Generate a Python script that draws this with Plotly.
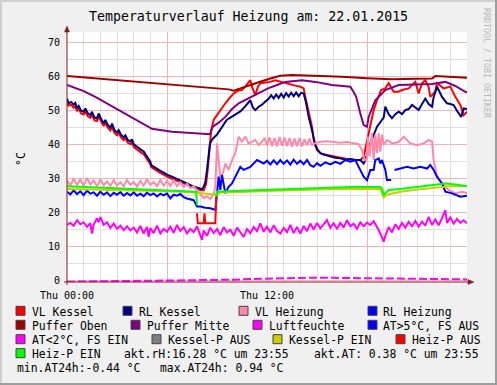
import plotly.graph_objects as go

# ---------------- data ----------------
title_text = "Temperaturverlauf Heizung am: 22.01.2015"
x_tick_vals = [0, 6, 12, 18]
x_tick_text = ["Thu 00:00", "", "Thu 12:00", ""]
y_tick_vals = [0, 10, 20, 30, 40, 50, 60, 70]

# (hour, °C)
vl_kessel = [
    (0.0, 52.2), (0.1, 51.5), (0.25, 51.8), (0.4, 50.9), (0.5, 51.4), (0.6, 49.9), (0.7, 50.5),
    (0.85, 49.2), (1.0, 48.9), (1.1, 49.8), (1.25, 48.4), (1.4, 47.9), (1.5, 48.8), (1.65, 47.2),
    (1.8, 47.0), (1.9, 48.3), (2.05, 46.8), (2.2, 45.5), (2.3, 46.4), (2.45, 45.0), (2.6, 44.2),
    (2.7, 45.3), (2.85, 43.5), (3.0, 42.8), (3.1, 43.4), (3.25, 42.1), (3.4, 41.4), (3.5, 41.9),
    (3.65, 40.6), (3.8, 40.2), (3.9, 40.7), (4.0, 39.4), (4.15, 38.8), (4.3, 38.1), (4.45, 37.7),
    (4.6, 37.2), (4.7, 36.5), (4.85, 35.6), (5.0, 34.3), (5.05, 33.4), (5.2, 32.9), (5.4, 32.3),
    (5.6, 31.7), (5.8, 31.2), (6.0, 30.6), (6.3, 30.0), (6.6, 29.4), (6.9, 28.7), (7.2, 28.1),
    (7.5, 27.5), (7.8, 27.0), (8.0, 26.7), (8.2, 26.6), (8.35, 28.5), (8.45, 33.0), (8.55, 39.4),
    (8.65, 44.3), (8.8, 47.3), (9.0, 48.7), (9.2, 50.2), (9.5, 52.2), (9.8, 54.0), (10.0, 55.1),
    (10.3, 56.0), (10.5, 56.1), (10.7, 57.2), (10.9, 58.5), (11.0, 59.0), (11.1, 57.1), (11.3, 54.6),
    (11.45, 57.0), (11.6, 58.1), (11.9, 58.3), (12.2, 58.5), (12.5, 59.0), (12.8, 58.6), (13.1, 58.0),
    (13.4, 57.6), (13.7, 57.4), (14.0, 57.1), (14.2, 56.6), (14.3, 54.1), (14.5, 49.2), (14.7, 45.3),
    (14.8, 41.4), (15.0, 38.4), (15.3, 37.3), (15.6, 37.0), (16.0, 36.4), (16.4, 36.0), (16.8, 35.8),
    (17.2, 35.6), (17.6, 35.5), (17.8, 36.5), (18.0, 41.0), (18.2, 45.3), (18.4, 50.2), (18.6, 53.1),
    (18.85, 56.1), (19.1, 56.6), (19.3, 58.1), (19.6, 55.6), (19.9, 55.6), (20.1, 56.1), (20.5, 56.6),
    (20.9, 58.5), (21.1, 55.1), (21.3, 58.1), (21.5, 59.0), (21.7, 57.0), (21.8, 54.1), (22.1, 55.6),
    (22.2, 58.1), (22.6, 56.6), (23.0, 57.1), (23.3, 54.1), (23.6, 51.7), (23.8, 48.7), (24.0, 49.7),
]

rl_kessel = [
    (0.0, 53.6), (0.1, 52.2), (0.25, 52.6), (0.4, 51.8), (0.5, 52.3), (0.6, 50.7), (0.7, 51.4),
    (0.85, 50.0), (1.0, 49.7), (1.1, 50.7), (1.25, 49.3), (1.4, 48.7), (1.5, 49.7), (1.65, 48.0),
    (1.8, 47.8), (1.9, 49.2), (2.05, 47.6), (2.2, 46.3), (2.3, 47.3), (2.45, 45.8), (2.6, 45.0),
    (2.7, 46.2), (2.85, 44.3), (3.0, 43.6), (3.1, 44.3), (3.25, 42.9), (3.4, 42.2), (3.5, 42.8),
    (3.65, 41.4), (3.8, 41.0), (3.9, 41.6), (4.0, 40.2), (4.15, 39.6), (4.3, 38.9), (4.45, 38.5),
    (4.6, 38.0), (4.7, 37.3), (4.85, 36.4), (5.0, 35.0), (5.05, 34.0), (5.2, 33.5), (5.4, 32.9),
    (5.6, 32.3), (5.8, 31.8), (6.0, 31.2), (6.3, 30.6), (6.6, 30.0), (6.9, 29.3), (7.2, 28.6),
    (7.5, 27.9), (7.8, 27.4), (8.0, 27.0), (8.1, 26.9), (8.2, 27.6), (8.3, 29.0), (8.4, 32.6),
    (8.5, 37.5), (8.58, 40.4), (8.7, 41.5), (8.88, 42.4), (9.0, 43.0), (9.18, 44.3), (9.4, 46.0),
    (9.58, 47.3), (9.8, 48.0), (10.0, 48.6), (10.2, 49.2), (10.4, 49.8), (10.6, 50.8), (10.8, 52.0),
    (11.0, 53.1), (11.15, 51.0), (11.3, 50.2), (11.5, 51.2), (11.7, 51.8), (11.9, 52.7), (12.1, 53.5),
    (12.25, 54.6), (12.4, 53.6), (12.55, 54.8), (12.7, 53.8), (12.85, 55.0), (13.0, 53.9), (13.15, 55.2),
    (13.3, 54.2), (13.45, 55.3), (13.6, 54.3), (13.75, 55.4), (13.9, 54.3), (14.05, 55.3), (14.2, 55.1),
    (14.35, 52.2), (14.5, 48.2), (14.7, 44.3), (14.9, 39.9), (15.05, 38.5), (15.2, 37.5), (15.5, 37.0),
    (15.8, 36.5), (16.1, 36.2), (16.4, 36.0), (16.7, 35.6), (17.0, 35.8), (17.3, 35.5), (17.6, 35.5),
    (17.8, 34.5), (17.9, 35.5), (18.0, 37.0), (18.2, 40.4), (18.6, 45.3), (19.0, 48.0), (19.1, 51.2),
    (19.3, 49.0), (19.5, 47.8), (19.7, 49.0), (19.9, 49.7), (20.1, 49.0), (20.3, 50.2), (20.5, 50.5),
    (20.7, 51.7), (20.9, 51.0), (21.1, 50.2), (21.3, 52.0), (21.5, 53.6), (21.7, 52.0), (21.9, 51.2),
    (22.0, 54.0), (22.2, 57.1), (22.5, 54.1), (22.8, 52.2), (23.0, 52.0), (23.2, 51.7), (23.4, 50.0),
    (23.65, 48.2), (23.8, 50.7), (24.0, 50.5),
]

vl_heizung = [
    (0.0, 29.5), (0.2, 28.0), (0.4, 30.0), (0.6, 28.2), (0.8, 29.8), (1.0, 28.0), (1.2, 30.2),
    (1.4, 28.3), (1.6, 29.5), (1.8, 27.8), (2.0, 29.8), (2.2, 28.1), (2.4, 29.2), (2.6, 27.9),
    (2.8, 29.6), (3.0, 28.0), (3.2, 29.0), (3.4, 27.8), (3.6, 29.6), (3.8, 28.2), (4.0, 29.0),
    (4.2, 27.7), (4.4, 29.4), (4.6, 28.0), (4.8, 29.8), (5.0, 28.2), (5.2, 29.0), (5.4, 27.8),
    (5.6, 29.6), (5.8, 28.0), (6.0, 29.3), (6.2, 27.9), (6.4, 29.5), (6.6, 27.8), (6.8, 29.0),
    (7.0, 27.6), (7.2, 28.5), (7.4, 27.2), (7.6, 27.8), (7.8, 26.5), (8.0, 25.5), (8.2, 24.3),
    (8.4, 24.8), (8.6, 24.0), (8.8, 25.5), (8.9, 27.6), (9.0, 40.4), (9.1, 35.5), (9.2, 30.6),
    (9.35, 31.6), (9.5, 34.5), (9.7, 32.6), (9.9, 35.5), (10.1, 37.5), (10.3, 42.4), (10.5, 40.9),
    (10.7, 42.4), (10.9, 40.4), (11.3, 41.4), (11.5, 39.9), (11.7, 40.9), (11.85, 42.0), (12.0, 39.8),
    (12.15, 42.2), (12.3, 39.6), (12.45, 42.0), (12.6, 39.5), (12.75, 42.3), (12.9, 39.7), (13.05, 42.1),
    (13.2, 39.6), (13.35, 42.0), (13.5, 39.4), (13.65, 41.8), (13.8, 39.6), (13.95, 42.0), (14.1, 39.5),
    (14.25, 41.6), (14.4, 39.8), (14.55, 41.8), (14.7, 39.9), (14.9, 40.5), (15.2, 40.9), (15.6, 41.0),
    (16.0, 40.9), (16.4, 40.6), (16.8, 40.8), (17.2, 40.5), (17.5, 40.2), (17.7, 38.4), (17.85, 35.5),
    (18.0, 36.0), (18.05, 42.4), (18.15, 36.5), (18.3, 43.4), (18.4, 35.5), (18.5, 43.0), (18.6, 37.5),
    (18.7, 43.4), (18.8, 38.0), (18.9, 43.0), (19.0, 40.0), (19.2, 41.4), (19.5, 40.4), (19.9, 40.8),
    (20.2, 42.4), (20.6, 40.4), (21.0, 39.9), (21.4, 40.4), (21.7, 41.4), (21.9, 40.9), (22.0, 35.5),
    (22.2, 30.6), (22.5, 28.6), (22.9, 26.7), (23.3, 25.7), (23.7, 26.2), (24.0, 25.8),
]

rl_heizung = [
    (0.0, 26.2), (0.2, 25.4), (0.4, 26.6), (0.6, 25.5), (0.8, 26.3), (1.0, 25.2), (1.2, 26.5),
    (1.4, 25.6), (1.6, 26.0), (1.8, 25.0), (2.0, 26.2), (2.2, 25.3), (2.4, 26.0), (2.6, 24.9),
    (2.8, 25.9), (3.0, 25.3), (3.2, 26.1), (3.4, 25.0), (3.6, 25.8), (3.8, 25.1), (4.0, 26.0),
    (4.2, 25.0), (4.4, 25.6), (4.6, 24.9), (4.8, 25.9), (5.0, 25.2), (5.2, 25.7), (5.4, 24.8),
    (5.6, 25.6), (5.8, 25.1), (6.0, 25.7), (6.2, 24.2), (6.4, 25.3), (6.6, 25.0), (6.8, 25.5),
    (7.0, 24.6), (7.2, 24.2), (7.4, 24.0), (7.6, 23.7), (7.8, 21.8), (8.0, 21.8), (8.3, 21.5),
    (8.6, 21.3), (8.9, 20.8), (9.0, 25.7), (9.1, 30.6), (9.2, 26.7), (9.3, 31.1), (9.5, 25.7),
    (9.7, 27.6), (9.9, 28.6), (10.2, 31.6), (10.4, 33.5), (10.6, 32.6), (11.0, 33.5), (11.4, 35.5),
    (11.8, 34.5), (12.0, 35.3), (12.2, 34.2), (12.4, 35.4), (12.6, 34.3), (12.8, 35.5), (13.0, 34.4),
    (13.2, 35.4), (13.4, 34.2), (13.6, 35.6), (13.8, 34.4), (14.0, 35.3), (14.2, 34.3), (14.4, 35.5),
    (14.6, 34.0), (14.8, 33.5), (15.0, 34.6), (15.2, 33.8), (15.5, 34.8), (15.8, 34.2), (16.1, 35.0),
    (16.4, 34.4), (16.7, 35.5), (17.0, 35.0), (17.3, 35.5), (17.5, 33.5), (17.8, 30.6), (18.0, 29.6),
    (18.2, 32.6), (18.4, 32.6), (18.5, 35.5), (18.7, 36.0), (18.8, 34.5), (18.9, 35.5), (19.1, 32.6),
    (19.2, 29.6), (19.45, 29.6), (19.55, None), (19.65, 32.6), (20.0, 33.0), (20.4, 33.5), (20.8, 33.0),
    (21.2, 33.5), (21.6, 33.0), (21.8, 34.0), (22.0, 32.6), (22.2, 30.6), (22.5, 28.6), (22.7, 26.2),
    (23.1, 25.7), (23.6, 24.7), (24.0, 25.0),
]

puffer_oben = [
    (0.0, 60.2), (2.0, 59.4), (4.0, 58.6), (6.0, 57.8), (8.0, 57.0), (9.7, 56.3), (10.0, 55.9),
    (10.5, 56.8), (11.0, 57.6), (11.5, 58.4), (12.2, 59.5), (12.8, 60.3), (13.5, 60.5), (15.0, 60.3),
    (16.5, 60.0), (18.0, 59.6), (19.5, 59.3), (21.0, 59.4), (21.9, 59.5), (22.1, 60.2), (23.0, 60.0),
    (24.0, 59.7),
]

puffer_mitte = [
    (0.0, 57.6), (1.0, 55.8), (1.7, 54.1), (3.1, 50.2), (4.3, 46.8), (5.1, 44.7), (6.3, 43.8),
    (7.0, 43.6), (8.0, 43.3), (8.58, 43.1), (8.75, 45.3), (9.1, 46.5), (9.5, 48.2), (9.9, 50.5),
    (10.3, 52.2), (10.8, 53.5), (11.3, 54.6), (11.7, 55.6), (12.06, 56.6), (12.6, 57.6), (13.1, 58.5),
    (14.1, 59.0), (14.9, 58.5), (15.9, 57.6), (16.5, 57.3), (17.0, 57.1), (17.2, 55.5), (17.35, 54.1),
    (17.6, 49.2), (17.8, 45.8), (18.0, 45.3), (18.1, 48.2), (18.5, 53.1), (19.1, 56.1), (19.9, 57.6),
    (21.0, 57.8), (21.9, 57.9), (22.7, 58.5), (23.3, 57.3), (23.9, 55.6), (24.0, 55.4),
]

luftfeuchte = [
    (0.0, 16.4), (0.2, 17.0), (0.4, 16.2), (0.6, 17.8), (0.8, 16.6), (1.0, 17.2), (1.2, 15.8),
    (1.4, 16.9), (1.5, 13.9), (1.6, 16.5), (1.8, 18.3), (1.9, 17.2), (2.0, 18.7), (2.2, 16.4),
    (2.4, 17.2), (2.6, 15.5), (2.8, 16.8), (3.0, 15.3), (3.2, 16.2), (3.4, 14.9), (3.6, 16.0),
    (3.8, 14.8), (4.0, 15.6), (4.2, 14.2), (4.4, 16.1), (4.6, 13.9), (4.8, 15.8), (4.9, 12.9),
    (5.0, 15.5), (5.2, 14.0), (5.4, 16.2), (5.6, 13.9), (5.8, 15.2), (6.0, 14.4), (6.2, 15.9),
    (6.4, 14.1), (6.6, 16.4), (6.8, 14.6), (7.0, 15.8), (7.2, 13.9), (7.4, 15.2), (7.6, 14.3),
    (7.8, 16.0), (8.0, 13.5), (8.1, 12.0), (8.2, 14.8), (8.4, 13.2), (8.6, 15.6), (8.8, 14.0),
    (9.0, 15.2), (9.2, 13.4), (9.4, 15.8), (9.6, 14.2), (9.8, 15.0), (10.0, 13.2), (10.2, 15.6),
    (10.4, 14.1), (10.6, 12.9), (10.8, 15.2), (11.0, 14.0), (11.2, 15.8), (11.4, 14.6), (11.6, 16.9),
    (11.8, 14.4), (12.0, 15.9), (12.2, 14.2), (12.4, 16.3), (12.6, 14.6), (12.8, 13.9), (13.0, 15.5),
    (13.2, 14.3), (13.4, 16.4), (13.6, 14.0), (13.8, 15.8), (14.0, 13.9), (14.2, 16.1), (14.4, 14.6),
    (14.6, 16.8), (14.8, 15.1), (15.0, 17.0), (15.2, 15.4), (15.4, 16.5), (15.6, 17.8), (15.8, 15.6),
    (16.0, 16.9), (16.2, 15.2), (16.4, 17.0), (16.6, 15.6), (16.8, 17.8), (17.0, 16.0), (17.2, 16.8),
    (17.4, 15.3), (17.6, 17.2), (17.8, 16.0), (18.0, 17.1), (18.2, 16.4), (18.4, 17.5), (18.6, 15.8),
    (18.8, 13.9), (19.0, 11.5), (19.1, 13.2), (19.3, 15.8), (19.5, 14.2), (19.7, 16.6), (19.9, 15.2),
    (20.1, 17.0), (20.3, 15.6), (20.5, 17.3), (20.7, 16.0), (20.9, 17.6), (21.1, 15.9), (21.3, 17.4),
    (21.5, 16.2), (21.7, 18.8), (21.9, 16.4), (22.1, 18.0), (22.3, 16.3), (22.5, 18.4), (22.7, 20.8),
    (22.8, 17.0), (23.0, 18.6), (23.2, 16.8), (23.4, 18.2), (23.6, 17.0), (23.8, 17.8), (24.0, 16.9),
]

aussentemp_fs_ein = [
    (0.0, -0.3), (2.0, -0.2), (4.0, -0.1), (6.0, 0.0), (8.0, 0.1), (9.0, 0.2), (10.0, 0.3),
    (11.0, 0.5), (12.0, 0.6), (13.0, 0.8), (14.0, 0.9), (15.0, 0.9), (16.0, 0.85), (17.0, 0.8),
    (18.0, 0.7), (19.0, 0.6), (20.0, 0.5), (21.0, 0.5), (22.0, 0.4), (23.0, 0.4), (24.0, 0.38),
]

kessel_p_ein = [
    (0.0, 27.0), (2.0, 26.8), (4.0, 26.5), (6.0, 26.3), (7.5, 26.0), (8.5, 25.5), (9.0, 25.3),
    (9.2, 26.0), (10.0, 26.0), (12.0, 26.4), (14.0, 26.8), (16.0, 27.0), (18.8, 27.0), (19.0, 24.5),
    (19.2, 25.3), (20.0, 26.2), (21.0, 26.8), (22.0, 27.3), (23.0, 27.8), (24.0, 27.9),
]

heiz_p_ein = [
    (0.0, 27.8), (1.0, 27.6), (2.0, 27.3), (3.0, 27.1), (4.0, 26.9), (5.0, 26.7), (6.0, 26.5),
    (7.0, 26.3), (7.75, 26.2), (7.8, 22.2), (7.82, None), (8.95, 24.7), (9.0, 26.2), (10.0, 26.4),
    (11.5, 26.7), (13.0, 27.0), (15.0, 27.4), (17.0, 27.6), (18.8, 27.6), (18.9, 27.2), (19.0, 25.2),
    (19.1, 25.8), (19.3, 26.7), (20.0, 27.0), (21.0, 27.6), (22.0, 28.0), (22.7, 28.6), (23.3, 28.3),
    (24.0, 27.8),
]

heiz_p_aus = [
    (7.8, 19.8), (7.85, 16.9), (8.2, 16.9), (8.25, 19.8), (8.3, 16.9), (8.9, 16.9), (8.95, 24.7),
]

legend_labels = [
    ["VL Kessel", "RL Kessel", "VL Heizung", "RL Heizung"],
    ["Puffer Oben", "Puffer Mitte", "Luftfeuchte", "AT>5°C, FS AUS"],
    ["AT<2°C, FS EIN", "Kessel-P AUS", "Kessel-P EIN", "Heiz-P AUS"],
    ["Heiz-P EIN"],
]
legend_colors = [
    ["#FF0000", "#000080", "#FF88AA", "#0000FF"],
    ["#A00000", "#800080", "#FF00FF", "#0000FF"],
    ["#FF00FF", "#808080", "#CCCC00", "#FF0000"],
    ["#00FF00"],
]
info_texts = [
    "akt.rH:16.28 °C um 23:55",
    "akt.AT: 0.38 °C um 23:55",
    "min.AT24h:-0.44 °C",
    "max.AT24h: 0.94 °C",
]

# ---------------- layout helpers ----------------
W, H = 497, 385
L, R, T, B = 67, 467, 32, 282
Y_MIN, Y_MAX = -0.38, 73.18
MONO = "DejaVu Sans Mono"


def px(x):
    return (x - L) / (R - L)


def py(y):
    return (B - y) / (B - T)


def xy(series):
    return [p[0] for p in series], [p[1] for p in series]


fig = go.Figure()

traces = [
    (vl_kessel, "VL Kessel", "#FF0000", 2, None),
    (rl_kessel, "RL Kessel", "#000080", 2, None),
    (vl_heizung, "VL Heizung", "#FF88AA", 2, None),
    (rl_heizung, "RL Heizung", "#0000FF", 2, None),
    (puffer_oben, "Puffer Oben", "#A00000", 2, None),
    (puffer_mitte, "Puffer Mitte", "#800080", 2, None),
    (luftfeuchte, "Luftfeuchte", "#FF00FF", 2, None),
    (aussentemp_fs_ein, "AT<2°C, FS EIN", "#FF00FF", 2, "8px,3px"),
    (kessel_p_ein, "Kessel-P EIN", "#CCCC00", 2, None),
    (heiz_p_ein, "Heiz-P EIN", "#00FF00", 2, None),
    (heiz_p_aus, "Heiz-P AUS", "#FF0000", 2, None),
]
for data, name, color, width, dash in traces:
    xs, ys = xy(data)
    fig.add_trace(go.Scatter(
        x=xs, y=ys, mode="lines", name=name, showlegend=False,
        line=dict(color=color, width=width, dash=dash), connectgaps=False,
        hoverinfo="skip",
    ))

shapes = []
annotations = []

# frame (3D look)
shade_a, shade_b = "#CFCFCF", "#9E9E9E"
for (x0, y0, x1, y1, c) in [
    (0, 0, W, 2, shade_a), (0, 0, 2, H, shade_a),
    (0, H - 2, W, H, shade_b), (W - 2, 0, W, H, shade_b),
]:
    shapes.append(dict(type="rect", xref="paper", yref="paper",
                       x0=px(x0), x1=px(x1), y0=py(y1), y1=py(y0),
                       fillcolor=c, line=dict(width=0), layer="above"))

# axes with arrows
axis_c = "#7F1F1F"
shapes.append(dict(type="line", xref="paper", yref="paper",
                   x0=px(L), x1=px(L), y0=py(B + 3), y1=py(T - 1),
                   line=dict(color=axis_c, width=1), layer="above"))
shapes.append(dict(type="line", xref="paper", yref="paper",
                   x0=px(L - 3), x1=px(R + 2), y0=py(B), y1=py(B),
                   line=dict(color=axis_c, width=1), layer="above"))
shapes.append(dict(type="path", xref="paper", yref="paper",
                   path=f"M {px(L-2.5)},{py(T)} L {px(L+2.5)},{py(T)} L {px(L)},{py(T-6)} Z",
                   fillcolor=axis_c, line=dict(color=axis_c, width=0.5), layer="above"))
shapes.append(dict(type="path", xref="paper", yref="paper",
                   path=f"M {px(R+1)},{py(B-2.5)} L {px(R+1)},{py(B+2.5)} L {px(R+7)},{py(B)} Z",
                   fillcolor=axis_c, line=dict(color=axis_c, width=0.5), layer="above"))

# legend
row_y = [310.8, 324.8, 339.2, 353.2, 366.8]
legend_x = [
    [(16, 31), (123, 138), (239, 254), (368, 382)],
    [(16, 31), (131, 146), (253, 268), (368, 382)],
    [(16, 31), (152, 167), (273, 288), (396, 411)],
    [(16, 31)],
]
LEG_FONT = dict(family=MONO, size=11.4, color="#000000")
for r, (labels, colors, xs) in enumerate(zip(legend_labels, legend_colors, legend_x)):
    cy = row_y[r]
    for lab, col, (sx, tx) in zip(labels, colors, xs):
        shapes.append(dict(type="rect", xref="paper", yref="paper",
                           x0=px(sx), x1=px(sx + 9), y0=py(cy + 4.5), y1=py(cy - 4.5),
                           fillcolor=col, line=dict(color="#444444", width=1), layer="above"))
        annotations.append(dict(text=lab, xref="paper", yref="paper", x=px(tx - 1), y=py(cy + 1),
                                xanchor="left", yanchor="middle", showarrow=False, font=LEG_FONT))

info_pos = [(122.7, row_y[3]), (312.7, row_y[3]), (16, row_y[4]), (158.7, row_y[4])]
for txt, (tx, cy) in zip(info_texts, info_pos):
    annotations.append(dict(text=txt, xref="paper", yref="paper", x=px(tx - 1), y=py(cy + 1),
                            xanchor="left", yanchor="middle", showarrow=False, font=LEG_FONT))

# title, unit, watermark
annotations.append(dict(text=title_text, xref="paper", yref="paper", x=px(248), y=py(17),
                        xanchor="center", yanchor="middle", showarrow=False,
                        font=dict(family=MONO, size=13.25, color="#000000")))
annotations.append(dict(text="°C", xref="paper", yref="paper", x=px(21), y=py(159),
                        xanchor="center", yanchor="middle", showarrow=False, textangle=-90,
                        font=dict(family=MONO, size=11.5, color="#000000")))
annotations.append(dict(text="RRDTOOL / TOBI OETIKER", xref="paper", yref="paper", x=px(487), y=py(63),
                        xanchor="center", yanchor="middle", showarrow=False, textangle=90,
                        font=dict(family=MONO, size=8.3, color="#B8B8B8")))

minor_grid = "#E0E0E0"
major_grid = "#F4B4B4"

fig.update_layout(
    width=W, height=H, autosize=False,
    margin=dict(l=L, r=W - R, t=T, b=H - B, pad=0),
    paper_bgcolor="#F0F0F0", plot_bgcolor="#FFFFFF",
    shapes=shapes, annotations=annotations,
    xaxis=dict(
        range=[0, 24], tickmode="array", tickvals=x_tick_vals, ticktext=x_tick_text,
        showgrid=True, gridcolor=major_grid, gridwidth=1, zeroline=False, showline=False,
        ticks="", ticklabelstandoff=6,
        tickfont=dict(family=MONO, size=10, color="#000000"),
        minor=dict(dtick=1, tick0=0, showgrid=True, gridcolor=minor_grid, gridwidth=1),
    ),
    yaxis=dict(
        range=[Y_MIN, Y_MAX], tickmode="array", tickvals=y_tick_vals,
        showgrid=True, gridcolor=major_grid, gridwidth=1, zeroline=False, showline=False,
        ticks="", ticklabelstandoff=6,
        tickfont=dict(family=MONO, size=10, color="#000000"),
        minor=dict(dtick=5, tick0=0, showgrid=True, gridcolor=minor_grid, gridwidth=1),
    ),
)

fig.write_html(
    "out.html",
    config={"displayModeBar": False, "staticPlot": True},
    post_script="document.body.style.margin='0px';document.body.style.padding='0px';"
                "document.body.style.overflow='hidden';",
)
